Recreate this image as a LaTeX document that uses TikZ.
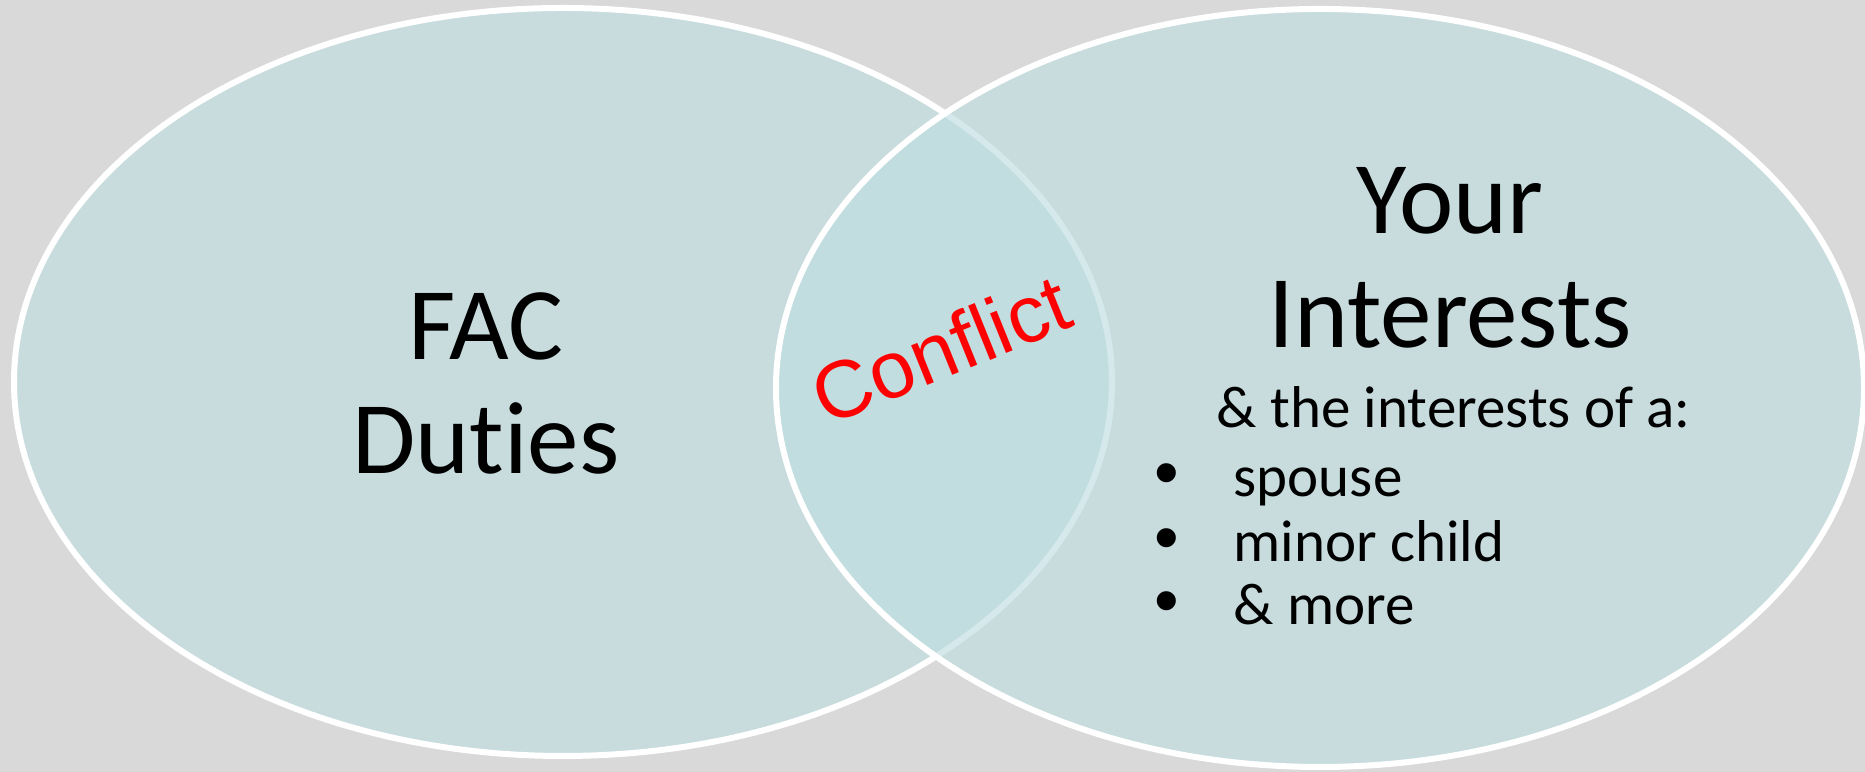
\documentclass[tikz,border=0pt]{standalone}
\usepackage{fontspec}
\setmainfont{Carlito}[Ligatures=NoCommon]
\newfontfamily\arialfont{Liberation Sans}[Ligatures=NoCommon]
\usepackage{tikz}
\definecolor{slidegray}{RGB}{217,217,217}
\definecolor{vennblue}{RGB}{191,222,226}
\tikzset{
    venn/.style={fill=vennblue,fill opacity=0.65,draw=white,line width=0.06cm},
    bigtext/.style={font=\fontsize{29.3}{32.7}\selectfont,align=center,inner sep=0pt},
    smalltext/.style={font=\fontsize{16.8}{20.2}\selectfont,inner sep=0pt},
    bulletdot/.style={font=\arialfont\fontsize{20}{24}\selectfont,inner sep=0pt},
    clash/.style={text=red,font=\arialfont\fontsize{23}{27}\selectfont,rotate=22,inner sep=0pt},
    }
\begin{document}
\begin{tikzpicture}
		\useasboundingbox (0,0) rectangle (18.65,7.72);
		\fill[slidegray] (0,0) rectangle (18.65,7.72);

		% the two circles of the diagram
		\path[venn] (5.63,3.90) ellipse (5.49 and 3.74);
		\path[venn] (13.20,3.84) ellipse (5.44 and 3.79);

		\node[bigtext,anchor=base] (duties) at (4.86,2.98) {FAC\\Duties};
		\node[bigtext,anchor=base] (yours) at (14.50,4.24) {Your\\Interests};
		\node[clash] (conflict) at (9.41,4.23) {Conflict};

		\node[smalltext,anchor=base west] (others) at (12.16,3.44) {\& the interests of a:};
		\node[bulletdot,anchor=base] (b1) at (11.67,2.75) {•};
		\node[bulletdot,anchor=base] (b2) at (11.67,2.10) {•};
		\node[bulletdot,anchor=base] (b3) at (11.67,1.47) {•};
		\node[smalltext,anchor=base west] (spouse) at (12.33,2.75) {spouse};
		\node[smalltext,anchor=base west] (child) at (12.33,2.10) {minor child};
		\node[smalltext,anchor=base west] (more) at (12.33,1.47) {\& more};
\end{tikzpicture}
\end{document}
